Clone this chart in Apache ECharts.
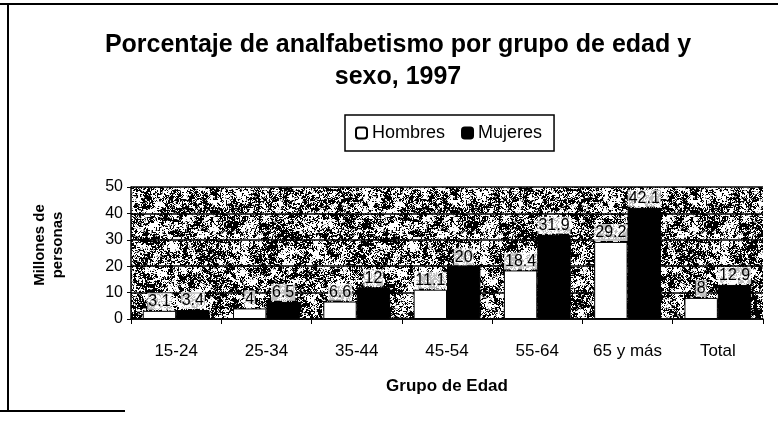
<!DOCTYPE html>
<html><head><meta charset="utf-8">
<script src="https://cdn.jsdelivr.net/npm/echarts@6/dist/echarts.min.js"></script>
<style>html,body{margin:0;padding:0;background:#fff}#c{width:778px;height:424px}</style>
</head><body><div id="c"></div>
<script>
var categories = ['15-24','25-34','35-44','45-54','55-64','65 y más','Total'];
var hombres = [3.1, 4, 6.6, 11.1, 18.4, 29.2, 8];
var mujeres = [3.4, 6.5, 12, 20, 31.9, 42.1, 12.9];
var yTicks = [0, 10, 20, 30, 40, 50];

// deterministic speckle texture for the plot background (styling only)
function makeTexture(){
  var W = 240, H = 140;
  var c = document.createElement('canvas'); c.width = W; c.height = H;
  var ctx = c.getContext('2d');
  var img = ctx.createImageData(W,H);
  function h(x,y,s){var n = Math.sin(x*12.9898 + y*78.233 + s*37.719)*43758.5453; return n - Math.floor(n);}
  function vn(x,y,sc,s){
    var gx = x/sc, gy = y/sc, x0 = Math.floor(gx), y0 = Math.floor(gy), fx = gx-x0, fy = gy-y0;
    var a = h(x0,y0,s), b = h(x0+1,y0,s), c2 = h(x0,y0+1,s), d = h(x0+1,y0+1,s);
    return (a*(1-fx)+b*fx)*(1-fy) + (c2*(1-fx)+d*fx)*fy;
  }
  for (var y=0;y<H;y++) for (var x=0;x<W;x++){
    var b = vn(x,y,5,1)*0.35 + vn(x,y,2,2)*0.3 + h(x,y,3)*0.35;
    var v = b > 0.52 ? 255 : (b > 0.48 ? 150 : 0);
    var i=(y*W+x)*4; img.data[i]=v;img.data[i+1]=v;img.data[i+2]=v;img.data[i+3]=255;
  }
  ctx.putImageData(img,0,0);
  return c;
}

var chart = echarts.init(document.getElementById('c'));
var ff = '"Liberation Sans", Arial, sans-serif';
var lbl = {show:true, position:'top', distance:1, color:'#000', fontSize:16, fontFamily:ff,
  backgroundColor:'rgba(255,255,255,0.75)', padding:[1,1,0,1]};
chart.setOption({
  animation:false,
  backgroundColor:'#fff',
  textStyle:{fontFamily:ff},
  title:{text:'Porcentaje de analfabetismo por grupo de edad y\nsexo, 1997', left:393, textAlign:'center', top:24,
    textStyle:{fontSize:25, fontWeight:'bold', color:'#000', lineHeight:32, fontFamily:ff}},
  legend:{data:['Hombres','Mujeres'], left:345, top:115, orient:'horizontal', itemWidth:11, itemHeight:11, itemGap:16,
    padding:[9,12,9,10], borderColor:'#000', borderWidth:1.5, backgroundColor:'#fff',
    textStyle:{fontSize:18, color:'#000', fontFamily:ff}},
  grid:{left:131, right:15, top:187, bottom:105, show:true, borderWidth:0,
    backgroundColor:{image:makeTexture(), repeat:'repeat'}},
  xAxis:{type:'category', data:categories,
    axisLine:{lineStyle:{color:'#000', width:1.5}}, axisTick:{show:true, length:5, lineStyle:{color:'#000'}},
    axisLabel:{color:'#000', fontSize:17, margin:24, fontFamily:ff},
    name:'Grupo de Edad', nameLocation:'middle', nameGap:59,
    nameTextStyle:{fontSize:17, fontWeight:'bold', color:'#000', fontFamily:ff}},
  yAxis:{type:'value', min:yTicks[0], max:yTicks[yTicks.length-1], interval:10,
    axisLine:{show:true, lineStyle:{color:'#000', width:1.5}}, axisTick:{show:true, length:4, lineStyle:{color:'#000'}},
    axisLabel:{color:'#000', fontSize:16, margin:8, fontFamily:ff},
    splitLine:{show:true, lineStyle:{color:'#000', width:1.5}},
    name:'Millones de\npersonas', nameLocation:'middle', nameGap:64, nameRotate:90,
    nameTextStyle:{fontSize:15, fontWeight:'bold', color:'#000', lineHeight:18, fontFamily:ff, padding:[0,0,0,16]}},
  series:[
    {name:'Hombres', type:'bar', data:hombres, barGap:'0%', barCategoryGap:'26%',
      itemStyle:{color:'#fff', borderColor:'#000', borderWidth:1}, label:lbl},
    {name:'Mujeres', type:'bar', data:mujeres,
      itemStyle:{color:'#000', borderColor:'#000', borderWidth:1}, label:lbl}
  ],
  graphic:[
    {type:'line', shape:{x1:0,y1:4,x2:778,y2:4}, style:{stroke:'#000', lineWidth:2}},
    {type:'line', shape:{x1:8,y1:4,x2:8,y2:412}, style:{stroke:'#000', lineWidth:2}},
    {type:'line', shape:{x1:0,y1:411,x2:125,y2:411}, style:{stroke:'#000', lineWidth:2}}
  ]
});
</script></body></html>
